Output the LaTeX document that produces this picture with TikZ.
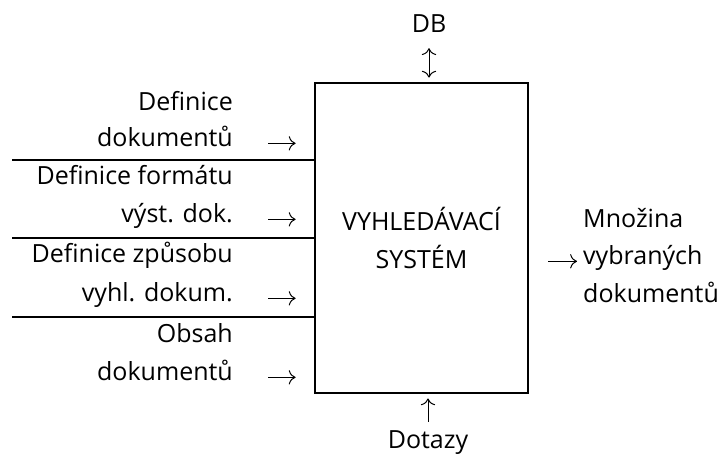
\documentclass[tikz,border=0pt]{standalone}
\usepackage{fontspec}
\setmainfont{Open Sans}
\usetikzlibrary{positioning, arrows.meta}

\begin{document}
\begin{tikzpicture}[x=1pt, y=-1pt,
    txt/.style={inner sep=0pt, font=\fontsize{25}{38}\selectfont},
    inlbl/.style={txt, anchor=base east},
    outlbl/.style={txt, anchor=base west},
    tip/.tip={Computer Modern Rightarrow[scale=1.8]},
    arr/.style={-tip, line width=1pt},
    sepline/.style={line width=2.6pt}]
  \useasboundingbox (0,0) rectangle (722,460);

  \node[draw, line width=2.8pt, minimum width=213pt, minimum height=310pt,
        align=center, txt] (box) at (421.5,238) {VYHLEDÁVACÍ\\SYSTÉM};

  % inputs on the left
  \node[inlbl] (in1a) at (233,110) {Definice};
  \node[inlbl] (in1b) at (233,146) {dokumentů};
  \node[inlbl] (in2a) at (233,184) {Definice formátu};
  \node[inlbl] (in2b) at (233,222) {výst. dok.};
  \node[inlbl] (in3a) at (233,262) {Definice způsobu};
  \node[inlbl] (in3b) at (233,301) {vyhl. dokum.};
  \node[inlbl] (in4a) at (233,342) {Obsah};
  \node[inlbl] (in4b) at (233,380) {dokumentů};
  \foreach \n in {in1b, in2b, in3b, in4b}
    \draw[arr, shorten <=35pt, shorten >=18pt] (\n.mid east) -- (\n.mid east -| box.west);
  \foreach \y [count=\i] in {160, 238, 317} {
    \coordinate (sep\i) at (12,\y);
    \draw[sepline] (sep\i) -- (sep\i -| box.west);
  }

  % database and queries
  \node[txt, anchor=base] (db) at (429,33) {DB};
  \draw[tip-tip, line width=1pt, shorten <=15pt, shorten >=4pt]
    (db.south) -- (db.south |- box.north);
  \node[txt, anchor=base] (dotazy) at (428,448) {Dotazy};
  \draw[arr, shorten <=8pt, shorten >=4pt] (dotazy.north) -- (dotazy.north |- box.south);

  % output
  \node[outlbl] (out1) at (583,227) {Množina};
  \node[outlbl] (out2) at (583,264) {vybraných};
  \node[outlbl] (out3) at (583,302) {dokumentů};
  \draw[arr, shorten <=19pt, shorten >=6pt] (out2.mid west -| box.east) -- (out2.mid west);
\end{tikzpicture}
\end{document}
